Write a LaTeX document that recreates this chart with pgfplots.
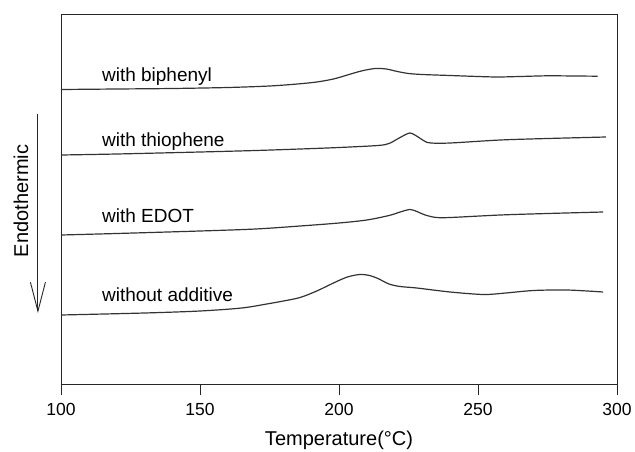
\documentclass[border=0pt]{standalone}
\usepackage{fontspec}
\setmainfont{Liberation Sans}
\usepackage{pgfplots}
\pgfplotsset{compat=1.18}
\usetikzlibrary{arrows.meta,calc}
\pgfplotsset{curve/.style={black!80, line width=1.2pt, mark=none, smooth, tension=0.5}}
\begin{document}
\begin{tikzpicture}
\begin{axis}[name=ax, scale only axis, width=556pt, height=370pt,
  xmin=100, xmax=300, ymin=-384, ymax=-14,
  xtick={100,150,200,250,300}, ytick=\empty,
  xtick pos=lower, tick align=outside, major tick length=11pt,
  axis line style={line width=0.9pt, black!85},
  tick style={line width=0.9pt, black!85},
  /pgf/number format/assume math mode=true,
  tick label style={font=\fontsize{17.5}{20}\selectfont},
  xticklabel style={yshift=-5pt},
  xlabel={Temperature(°C)},
  xlabel style={font=\fontsize{20}{24}\selectfont, yshift=-8.5pt},
  clip=false]
% with biphenyl
\addplot[curve] table {
100 -89.5
120 -89
140 -88.5
160 -87.5
175 -86
185 -84
192 -82
198 -79
203 -75
208 -71
213 -68.5
217 -69
221 -71.5
225 -73.5
230 -74.5
240 -75.5
250 -76.5
257 -77
265 -76.5
275 -75.8
285 -76
293 -76.2
};
% with thiophene
\addplot[curve] table {
100 -155
120 -154
150 -152
170 -150.5
186 -149
200 -147.5
214 -145.5
218 -143.5
221 -139
224 -134.5
225.5 -133
227 -134.5
229 -138
231 -141.5
233 -143
240 -143
258 -140
275 -138.5
296 -137
};
% with EDOT
\addplot[curve] table {
100 -235
120 -233.5
150 -231
170 -229
186 -226
200 -223
210 -220
218 -215.5
222 -212
225.5 -209.5
228 -211.5
231 -215
235 -217.5
240 -217.5
258 -215
275 -213.5
295 -212
};
% without additive
\addplot[curve] table {
100 -315
130 -313
150 -311
165 -308
174 -304
180 -301
186 -297.5
192 -291
198 -283
203 -277
207.5 -274.5
211 -275.5
214 -278.5
218 -284
222 -286.5
228 -288
240 -292
252 -294.5
260 -293
270 -290.5
282 -290
295 -292
};
\node[anchor=base west, inner sep=0pt, font=\fontsize{19}{22}\selectfont] at (axis cs:114.7,-81) {with biphenyl};
\node[anchor=base west, inner sep=0pt, font=\fontsize{19}{22}\selectfont] at (axis cs:114.7,-146) {with thiophene};
\node[anchor=base west, inner sep=0pt, font=\fontsize{19}{22}\selectfont] at (axis cs:114.7,-222.5) {with EDOT};
\node[anchor=base west, inner sep=0pt, font=\fontsize{19}{22}\selectfont] at (axis cs:114.7,-301.5) {without additive};
\node[rotate=90, inner sep=0pt, font=\fontsize{20}{24}\selectfont] at (axis cs:85.6,-201) {Endothermic};
\draw[line width=0.9pt, black!85, -{Straight Barb[length=29pt,width=15pt,line width=0.9pt]}] (axis cs:91.7,-114) -- (axis cs:91.7,-313);
\end{axis}
\pgfresetboundingbox
\path ($(ax.south west)+(-61pt,-67pt)$) rectangle ($(ax.north east)+(18pt,14pt)$);
\end{tikzpicture}
\end{document}
